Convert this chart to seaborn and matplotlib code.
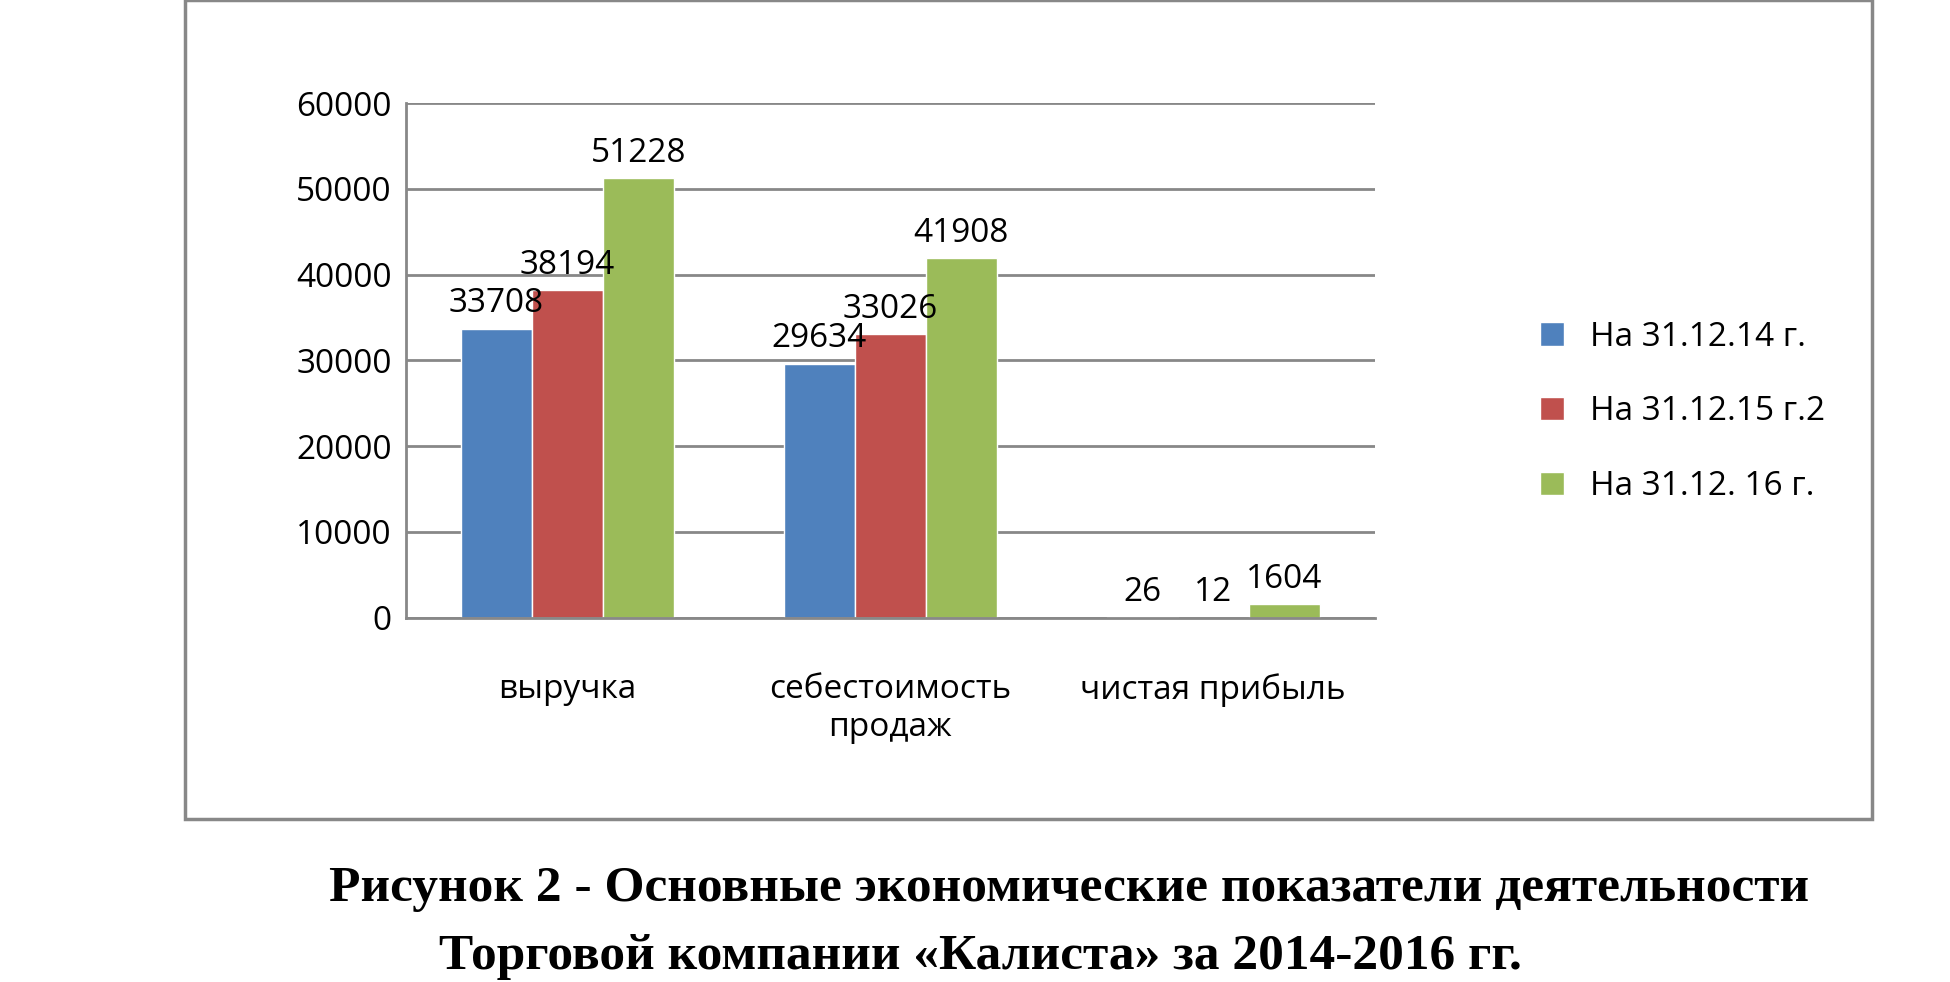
import matplotlib
matplotlib.use("Agg")
import matplotlib.pyplot as plt
import seaborn as sns
import pandas as pd
from matplotlib.patches import Rectangle

categories = ["выручка", "себестоимость\nпродаж", "чистая прибыль"]
series = ["На 31.12.14 г.", "На 31.12.15 г.2", "На 31.12. 16 г."]
v2014 = [33708, 29634, 26]
v2015 = [38194, 33026, 12]
v2016 = [51228, 41908, 1604]
colors = ["#4F81BD", "#C0504D", "#9BBB59"]
yticks = [0, 10000, 20000, 30000, 40000, 50000, 60000]

rows = []
for s, vals in zip(series, [v2014, v2015, v2016]):
    for c, v in zip(categories, vals):
        rows.append({"cat": c, "series": s, "value": v})
df = pd.DataFrame(rows)

sns.set_style("white")
plt.rcParams['font.family'] = ['Open Sans', 'DejaVu Sans']
plt.rcParams['text.color'] = 'black'
plt.rcParams['xtick.color'] = 'black'
plt.rcParams['ytick.color'] = 'black'

fig = plt.figure(figsize=(19.5, 9.82), dpi=100)
fig.patches.append(Rectangle((0.095, 0.166), 0.865, 0.834, transform=fig.transFigure,
                             fill=False, edgecolor="#888888", lw=2.5))
ax = fig.add_axes([0.208, 0.371, 0.497, 0.524])
sns.barplot(data=df, x="cat", y="value", hue="series", palette=colors, ax=ax,
            width=0.66, saturation=1, legend=True)
for cont in ax.containers:
    ax.bar_label(cont, labels=[f"{int(b.get_height())}" for b in cont], fontsize=24,
                 padding=6, color="black")
ax.set_ylim(0, 60000)
ax.set_yticks(yticks)
ax.tick_params(axis='y', labelsize=24, length=0, pad=10, labelcolor="black")
ax.tick_params(axis='x', labelsize=24, length=0, pad=40, labelcolor="black")
ax.set_xlabel("")
ax.set_ylabel("")
ax.yaxis.grid(True, color="#888888", lw=2)
ax.set_axisbelow(True)
for s in ["top", "right"]:
    ax.spines[s].set_visible(False)
for s in ["left", "bottom"]:
    ax.spines[s].set_color("#888888")
    ax.spines[s].set_linewidth(2)
leg = ax.legend(loc="center left", bbox_to_anchor=(1.14, 0.4), frameon=False, fontsize=24,
                labelspacing=1.25, handlelength=0.7, handleheight=0.7)
for t in leg.get_texts():
    t.set_color("black")

fig.text(0.548, 0.095, "Рисунок 2 - Основные экономические показатели деятельности",
         ha="center", va="center", fontsize=37, fontweight="bold",
         family="Liberation Serif", color="black")
fig.text(0.503, 0.025, "Торговой компании «Калиста» за 2014-2016 гг.",
         ha="center", va="center", fontsize=37, fontweight="bold",
         family="Liberation Serif", color="black")
fig.savefig("out.png", dpi=100)
